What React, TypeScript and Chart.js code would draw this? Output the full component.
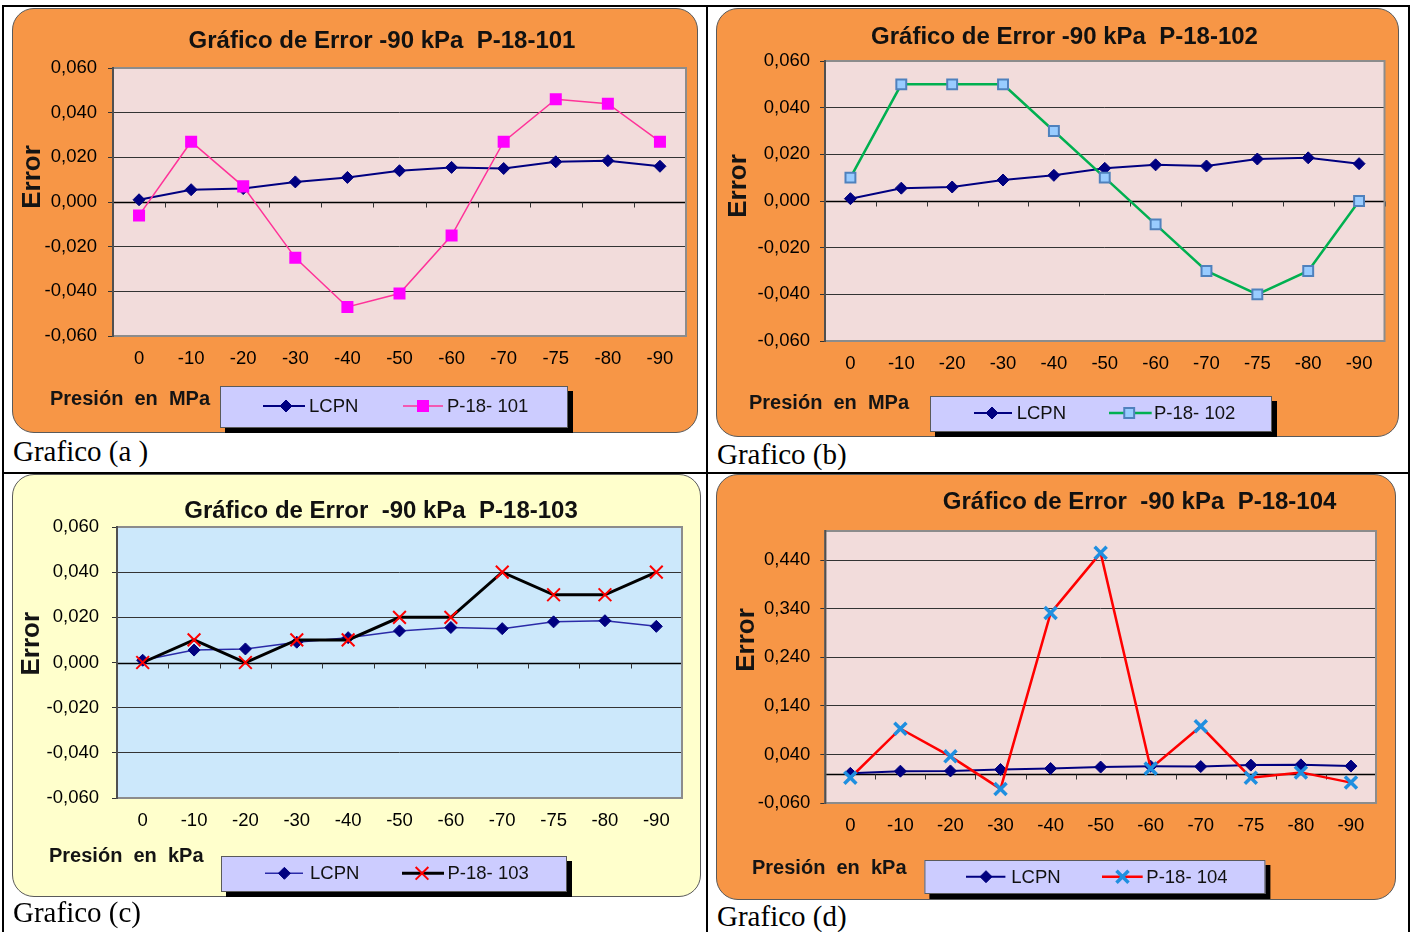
import React, { useEffect, useRef } from 'react';
import { Chart, registerables } from 'chart.js';
import { drawPoint } from 'chart.js/helpers';

Chart.register(...registerables);

// ---------- data ----------
const categories = ['0', '-10', '-20', '-30', '-40', '-50', '-60', '-70', '-75', '-80', '-90'];
const lcpn = [0.001, 0.0055, 0.006, 0.009, 0.011, 0.014, 0.0155, 0.015, 0.018, 0.0185, 0.016];
const p101 = [-0.006, 0.027, 0.007, -0.025, -0.047, -0.041, -0.015, 0.027, 0.046, 0.044, 0.027];
const p102 = [0.01, 0.05, 0.05, 0.05, 0.03, 0.01, -0.01, -0.03, -0.04, -0.03, 0.0];
const p103 = [0.0, 0.01, 0.0, 0.01, 0.01, 0.02, 0.02, 0.04, 0.03, 0.03, 0.04];
const p104 = [-0.008, 0.093, 0.036, -0.031, 0.331, 0.455, 0.011, 0.098, -0.008, 0.003, -0.018];
const yTicksSmall = [-0.06, -0.04, -0.02, 0, 0.02, 0.04, 0.06];
const yTicksBig = [-0.06, 0.04, 0.14, 0.24, 0.34, 0.44];

const SANS = '"Liberation Sans", Arial, Helvetica, sans-serif';
const SERIF = '"Liberation Serif", "Times New Roman", serif';

type Item = { l1: number; l2: number; mx: number; tx: number };
type Spec = {
  box: { x: number; y: number; w: number; h: number };
  boxColor: string;
  plotColor: string;
  plot: { left: number; right: number; top: number; bottom: number };
  yMin: number;
  yMax: number;
  yTicks: number[];
  tickPad: number;
  title: string;
  titleX: number;
  titleY: number;
  errorPos: [number, number];
  xLabel: string;
  xLabelPos: [number, number];
  legendBox: [number, number, number, number];
  legendY: number;
  legendItems: Item[];
  datasets: any[];
};

const lcpnDs = (color: string, width: number) => ({
  label: 'LCPN',
  data: lcpn,
  borderColor: color,
  borderWidth: width,
  pointStyle: 'rectRot',
  pointRadius: 6,
  pointBackgroundColor: '#000080',
  pointBorderColor: '#000080',
  pointBorderWidth: 1,
  order: 1,
});

const specs: Spec[] = [
  {
    box: { x: 12, y: 8, w: 686, h: 425 },
    boxColor: '#f79646',
    plotColor: '#f2dcdb',
    plot: { left: 101, right: 674, top: 60, bottom: 328 },
    yMin: -0.06, yMax: 0.06, yTicks: yTicksSmall, tickPad: 11,
    title: 'Gráfico de Error -90 kPa  P-18-101', titleX: 370, titleY: 33,
    errorPos: [21, 169],
    xLabel: 'Presión  en  MPa', xLabelPos: [38, 391],
    legendBox: [208, 378, 348, 42], legendY: 398,
    legendItems: [{ l1: 251, l2: 293, mx: 274, tx: 297 }, { l1: 391, l2: 431, mx: 411, tx: 435 }],
    datasets: [
      lcpnDs('#000080', 2),
      {
        label: 'P-18- 101', data: p101, borderColor: '#ff3399', borderWidth: 1.5,
        pointStyle: 'rect', pointRadius: 8.5, pointBackgroundColor: '#ff00ff',
        pointBorderColor: '#ff00ff', pointBorderWidth: 0, order: 0,
      },
    ],
  },
  {
    box: { x: 716, y: 8, w: 683, h: 429 },
    boxColor: '#f79646',
    plotColor: '#f2dcdb',
    plot: { left: 109, right: 668.5, top: 53, bottom: 333 },
    yMin: -0.06, yMax: 0.06, yTicks: yTicksSmall, tickPad: 10,
    title: 'Gráfico de Error -90 kPa  P-18-102', titleX: 348.5, titleY: 29,
    errorPos: [22.6, 178],
    xLabel: 'Presión  en  MPa', xLabelPos: [33, 395],
    legendBox: [214, 388, 342, 36], legendY: 405,
    legendItems: [{ l1: 258, l2: 296, mx: 276, tx: 300.7 }, { l1: 393, l2: 435.7, mx: 413.2, tx: 438 }],
    datasets: [
      lcpnDs('#000080', 2),
      {
        label: 'P-18- 102', data: p102, borderColor: '#00b050', borderWidth: 2.5,
        pointStyle: 'rect', pointRadius: 7, pointBackgroundColor: '#99ccff',
        pointBorderColor: '#4f81bd', pointBorderWidth: 2, order: 0,
      },
    ],
  },
  {
    box: { x: 12, y: 474, w: 689, h: 423 },
    boxColor: '#ffffcc',
    plotColor: '#cce8fb',
    plot: { left: 105, right: 670, top: 53, bottom: 324 },
    yMin: -0.06, yMax: 0.06, yTicks: yTicksSmall, tickPad: 13,
    title: 'Gráfico de Error  -90 kPa  P-18-103', titleX: 369, titleY: 37.5,
    errorPos: [19.7, 169.7],
    xLabel: 'Presión  en  kPa', xLabelPos: [37, 382],
    legendBox: [209, 382, 346, 36], legendY: 399.3,
    legendItems: [{ l1: 253, l2: 291, mx: 272.4, tx: 298 }, { l1: 390, l2: 432, mx: 410, tx: 435.5 }],
    datasets: [
      lcpnDs('#2a2aa8', 1.5),
      {
        label: 'P-18- 103', data: p103, borderColor: '#000000', borderWidth: 3,
        pointStyle: 'crossRot', pointRadius: 9, pointBackgroundColor: '#ff0000',
        pointBorderColor: '#ff0000', pointBorderWidth: 2, order: 0,
      },
    ],
  },
  {
    box: { x: 716, y: 474, w: 680, h: 426 },
    boxColor: '#f79646',
    plotColor: '#f2dcdb',
    plot: { left: 109.3, right: 660, top: 57, bottom: 329 },
    yMin: -0.06, yMax: 0.5, yTicks: yTicksBig, tickPad: 10,
    title: 'Gráfico de Error  -90 kPa  P-18-104', titleX: 423.6, titleY: 28.7,
    errorPos: [30.5, 166],
    xLabel: 'Presión  en  kPa', xLabelPos: [36, 394.3],
    legendBox: [208.4, 386, 341, 34], legendY: 402.7,
    legendItems: [{ l1: 250, l2: 289.4, mx: 270, tx: 295.3 }, { l1: 386, l2: 426.7, mx: 406.5, tx: 430.3 }],
    datasets: [
      lcpnDs('#000080', 2),
      {
        label: 'P-18- 104', data: p104, borderColor: '#ff0000', borderWidth: 2.5,
        pointStyle: 'crossRot', pointRadius: 8.5, pointBackgroundColor: '#1f8fe0',
        pointBorderColor: '#1f8fe0', pointBorderWidth: 3.5, order: 0,
      },
    ],
  },
];

const fmt = (v: number) => {
  const r = Math.abs(v) < 1e-9 ? 0 : v;
  return r.toFixed(3).replace('.', ',');
};

function ErrorChart({ spec }: { spec: Spec }) {
  const ref = useRef<HTMLCanvasElement>(null);
  useEffect(() => {
    const s = spec;
    const W = s.box.w;
    const H = s.box.h;
    const titleLH = 24 * 1.2;
    const padTop = s.titleY - titleLH / 2;
    const padBottom = s.plot.top - padTop - titleLH;

    const decor = {
      id: 'decor',
      afterLayout(chart: any) {
        const tb = chart.titleBlock;
        if (tb) {
          const cur = (tb.left + tb.right) / 2;
          const d = s.titleX - cur;
          tb.left += d;
          tb.right += d;
        }
      },
      beforeDraw(chart: any) {
        const { ctx, chartArea: a } = chart;
        ctx.save();
        ctx.fillStyle = s.plotColor;
        ctx.fillRect(a.left, a.top, a.right - a.left, a.bottom - a.top);
        ctx.restore();
      },
      beforeDatasetsDraw(chart: any) {
        const { ctx, chartArea: a } = chart;
        const y0 = Math.round(chart.scales.y.getPixelForValue(0)) + 0.5;
        ctx.save();
        ctx.strokeStyle = '#000';
        ctx.lineWidth = 1.3;
        ctx.beginPath();
        ctx.moveTo(a.left, y0);
        ctx.lineTo(a.right, y0);
        ctx.stroke();
        const n = categories.length;
        const step = (a.right - a.left) / n;
        ctx.lineWidth = 1;
        ctx.strokeStyle = '#333';
        ctx.beginPath();
        for (let i = 1; i <= n; i++) {
          const x = Math.round(a.left + i * step) + 0.5;
          ctx.moveTo(x, y0);
          ctx.lineTo(x, y0 + 5);
        }
        ctx.stroke();
        ctx.strokeStyle = '#8c8c8c';
        ctx.lineWidth = 2;
        ctx.strokeRect(a.left, a.top, a.right - a.left, a.bottom - a.top);
        ctx.strokeStyle = '#505050';
        ctx.beginPath();
        ctx.moveTo(a.left, a.top - 1);
        ctx.lineTo(a.left, a.bottom + 1);
        ctx.stroke();
        ctx.restore();
      },
      afterDraw(chart: any) {
        const { ctx } = chart;
        ctx.save();
        // y axis label
        ctx.translate(s.errorPos[0], s.errorPos[1]);
        ctx.rotate(-Math.PI / 2);
        ctx.font = `bold 26px ${SANS}`;
        ctx.fillStyle = '#141414';
        ctx.textAlign = 'center';
        ctx.textBaseline = 'middle';
        ctx.fillText('Error', 0, 0);
        ctx.restore();

        ctx.save();
        ctx.font = `bold 20px ${SANS}`;
        ctx.fillStyle = '#141414';
        ctx.textAlign = 'left';
        ctx.textBaseline = 'middle';
        ctx.fillText(s.xLabel, s.xLabelPos[0], s.xLabelPos[1]);

        // legend box
        const [lx, ly, lw, lh] = s.legendBox;
        ctx.fillStyle = '#000';
        ctx.fillRect(lx + 5, ly + 5, lw, lh);
        ctx.fillStyle = '#ccccff';
        ctx.fillRect(lx, ly, lw, lh);
        ctx.strokeStyle = '#5a5a5a';
        ctx.lineWidth = 1;
        ctx.strokeRect(lx + 0.5, ly + 0.5, lw - 1, lh - 1);

        s.legendItems.forEach((it, i) => {
          const ds = chart.data.datasets[i];
          const y = s.legendY;
          ctx.strokeStyle = ds.borderColor;
          ctx.lineWidth = ds.borderWidth;
          ctx.beginPath();
          ctx.moveTo(it.l1, y);
          ctx.lineTo(it.l2, y);
          ctx.stroke();
          ctx.fillStyle = ds.pointBackgroundColor;
          ctx.strokeStyle = ds.pointBorderColor;
          ctx.lineWidth = ds.pointBorderWidth;
          drawPoint(ctx, {
            pointStyle: ds.pointStyle,
            radius: ds.pointRadius,
            rotation: 0,
            borderWidth: ds.pointBorderWidth,
          } as any, it.mx, y);
          ctx.font = `18.5px ${SANS}`;
          ctx.fillStyle = '#111';
          ctx.textAlign = 'left';
          ctx.textBaseline = 'middle';
          ctx.fillText(ds.label, it.tx, y + 1);
        });
        ctx.restore();
      },
    };

    const gridColor = (c: any) => {
      const v = c.tick ? c.tick.value : null;
      if (v === null || v === undefined) return '#333';
      if (Math.abs(v - s.yMin) < 1e-9 || Math.abs(v - s.yMax) < 1e-9 || Math.abs(v) < 1e-9) {
        return 'rgba(0,0,0,0)';
      }
      return '#333';
    };

    const chart = new Chart(ref.current as HTMLCanvasElement, {
      type: 'line',
      data: {
        labels: categories,
        datasets: s.datasets.map((d) => ({ ...d, fill: false, tension: 0 })),
      },
      options: {
        responsive: false,
        animation: false,
        devicePixelRatio: 1,
        events: [],
        layout: { padding: { left: 0, right: W - s.plot.right, top: 0, bottom: 0 } },
        plugins: {
          legend: { display: false },
          tooltip: { enabled: false },
          title: {
            display: true,
            text: s.title,
            color: '#111',
            font: { family: SANS, size: 24, weight: 'bold', lineHeight: 1.2 },
            padding: { top: padTop, bottom: padBottom },
          },
        },
        scales: {
          x: {
            type: 'category',
            offset: true,
            grid: { display: false, drawTicks: false },
            border: { display: false },
            ticks: {
              color: '#000',
              font: { family: SANS, size: 18.5 },
              padding: 12,
              autoSkip: false,
              maxRotation: 0,
            },
            afterFit: (sc: any) => {
              sc.height = H - s.plot.bottom;
            },
          },
          y: {
            type: 'linear',
            min: s.yMin,
            max: s.yMax,
            afterBuildTicks: (sc: any) => {
              sc.ticks = s.yTicks.map((v) => ({ value: v }));
            },
            afterFit: (sc: any) => {
              sc.width = s.plot.left;
            },
            grid: {
              color: gridColor,
              lineWidth: 1,
              tickLength: 5,
              tickColor: '#333',
              tickWidth: 1,
            },
            border: { display: false },
            ticks: {
              color: '#000',
              font: { family: SANS, size: 18.5 },
              padding: s.tickPad,
              callback: (v: any) => fmt(Number(v)),
            },
          },
        },
      } as any,
      plugins: [decor],
    });
    return () => chart.destroy();
  }, [spec]);

  const b = spec.box;
  return (
    <div
      style={{
        position: 'absolute',
        left: b.x,
        top: b.y,
        width: b.w,
        height: b.h,
        background: spec.boxColor,
        borderRadius: 22,
        border: '1px solid #5a5a5a',
        boxSizing: 'border-box',
      }}
    >
      <canvas
        ref={ref}
        width={b.w}
        height={b.h}
        style={{ position: 'absolute', left: -1, top: -1, width: b.w, height: b.h }}
      />
    </div>
  );
}

const captions = [
  { text: 'Grafico (a )', x: 13, y: 437 },
  { text: 'Grafico (b)', x: 717, y: 440 },
  { text: 'Grafico (c)', x: 13, y: 898 },
  { text: 'Grafico (d)', x: 717, y: 902 },
];

const lines = [
  { x: 2, y: 5, w: 1408, h: 2 },
  { x: 2, y: 5, w: 2, h: 927 },
  { x: 706, y: 5, w: 2, h: 927 },
  { x: 1408, y: 5, w: 2, h: 927 },
  { x: 2, y: 472, w: 1408, h: 2 },
];

export default function App() {
  return (
    <div
      style={{
        position: 'absolute',
        left: 0,
        top: 0,
        width: 1412,
        height: 932,
        background: '#fff',
        overflow: 'hidden',
      }}
    >
      {lines.map((l, i) => (
        <div
          key={'l' + i}
          style={{ position: 'absolute', left: l.x, top: l.y, width: l.w, height: l.h, background: '#000' }}
        />
      ))}
      {specs.map((s, i) => (
        <ErrorChart key={i} spec={s} />
      ))}
      {captions.map((c, i) => (
        <div
          key={'c' + i}
          style={{
            position: 'absolute',
            left: c.x,
            top: c.y,
            fontFamily: SERIF,
            fontSize: 29,
            lineHeight: '29px',
            color: '#000',
            whiteSpace: 'pre',
          }}
        >
          {c.text}
        </div>
      ))}
    </div>
  );
}
